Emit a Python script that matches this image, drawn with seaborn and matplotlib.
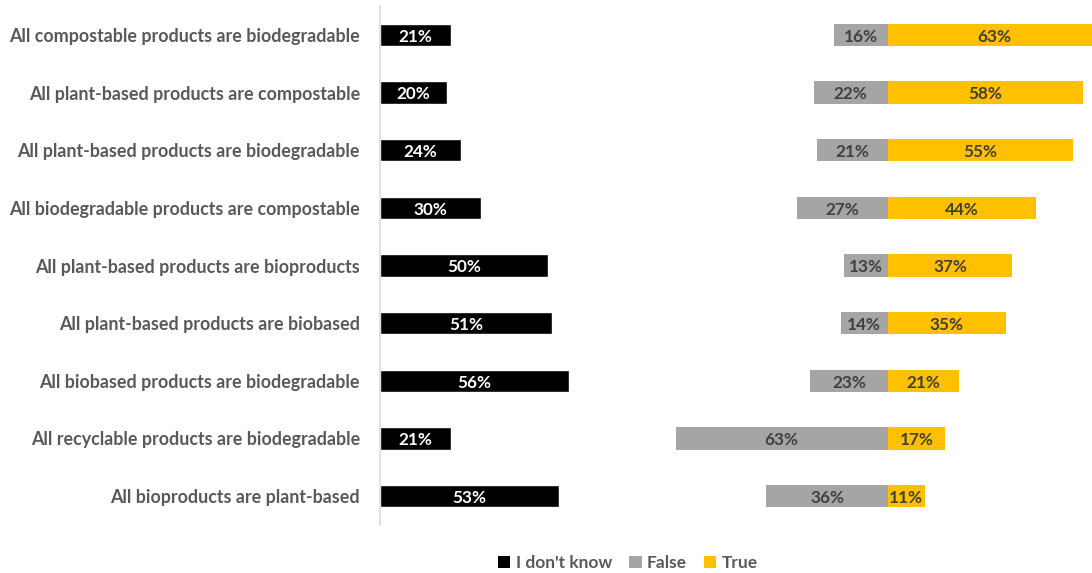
import matplotlib
matplotlib.use("Agg")
import matplotlib.pyplot as plt
import seaborn as sns
import pandas as pd
from matplotlib.patches import Patch

statements = [
    "All compostable products are biodegradable",
    "All plant-based products are compostable",
    "All plant-based products are biodegradable",
    "All biodegradable products are compostable",
    "All plant-based products are bioproducts",
    "All plant-based products are biobased",
    "All biobased products are biodegradable",
    "All recyclable products are biodegradable",
    "All bioproducts are plant-based",
]
dont_know = [21, 20, 24, 30, 50, 51, 56, 21, 53]
false_pct = [16, 22, 21, 27, 13, 14, 23, 63, 36]
true_pct = [63, 58, 55, 44, 37, 35, 21, 17, 11]
legend_labels = ["I don't know", "False", "True"]

BLACK = "#000000"
GREY = "#a5a5a5"
GOLD = "#ffc000"
LABEL = "#595959"
VALUE = "#404040"
FONT = ["Lato", "DejaVu Sans"]

# the False/True block is drawn around a shared divider to the right of the "I don't know" bars
DIVIDER = 150.7

sns.set_theme(style="white")
plt.rcParams["font.family"] = FONT

df = pd.DataFrame({"statement": statements, "idk": dont_know,
                   "false": false_pct, "true": true_pct})

fig = plt.figure(figsize=(10.92, 5.73), dpi=100)
ax = fig.add_axes([380 / 1092, 48 / 573, 1 - 380 / 1092, 519 / 573])

sns.barplot(data=df, x="idk", y="statement", orient="h", color=BLACK,
            width=0.39, saturation=1, ax=ax)
ypos = range(len(statements))
ax.barh(ypos, df["false"], left=DIVIDER - df["false"], height=0.39,
        color=GREY, linewidth=0)
ax.barh(ypos, df["true"], left=DIVIDER, height=0.39, color=GOLD, linewidth=0)

for i, (k, f, t) in enumerate(zip(dont_know, false_pct, true_pct)):
    ax.text(k / 2, i + 0.03, f"{k}%", ha="center", va="center", color="white",
            fontsize=12.3, fontweight="bold")
    ax.text(DIVIDER - f / 2, i + 0.03, f"{f}%", ha="center", va="center", color=VALUE,
            fontsize=12.3, fontweight="bold")
    ax.text(DIVIDER + t / 2, i + 0.03, f"{t}%", ha="center", va="center", color=VALUE,
            fontsize=12.3, fontweight="bold")

ax.set_xlim(0, 211.3)
ax.set_ylim(len(statements) - 0.5, -0.5)
ax.set_xlabel("")
ax.set_ylabel("")
ax.set_xticks([])
for side in ["top", "right", "bottom"]:
    ax.spines[side].set_visible(False)
ax.spines["left"].set_color("#d9d9d9")
ax.spines["left"].set_linewidth(1.2)
ax.tick_params(axis="y", length=0, pad=14.4, labelsize=12.9, labelcolor=LABEL)
for lab in ax.get_yticklabels():
    lab.set_fontweight("bold")

handles = [Patch(facecolor=c, edgecolor="none") for c in (BLACK, GREY, GOLD)]
fig.legend(handles, legend_labels, loc="center", bbox_to_anchor=(628 / 1092, 1 - 563 / 573),
           ncol=3, frameon=False, handlelength=0.7, handleheight=0.7,
           handletextpad=0.3, columnspacing=1.0,
           prop={"family": FONT, "weight": "bold", "size": 12.5},
           labelcolor=LABEL)

fig.savefig("out.png", dpi=100)
